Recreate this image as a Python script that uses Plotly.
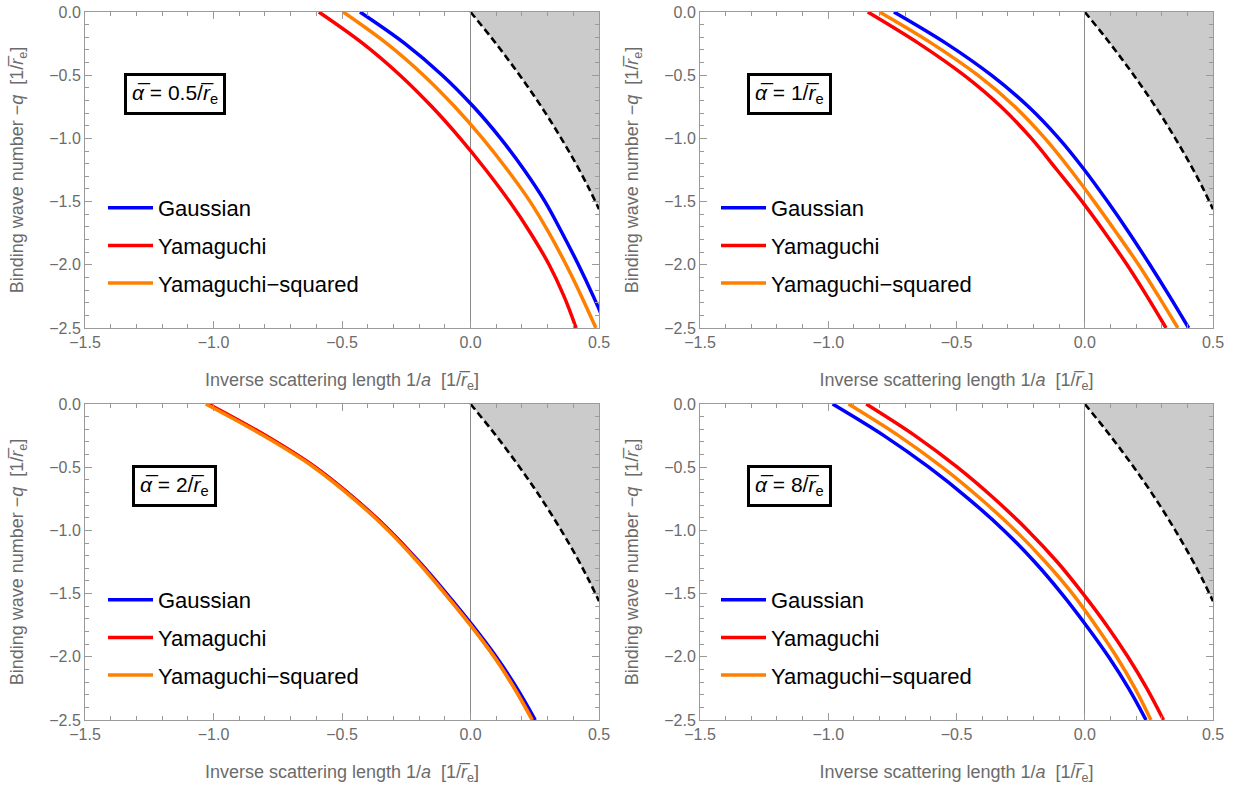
import plotly.graph_objects as go

# ---------------- data ----------------
q_levels = [0.0, -0.25, -0.5, -0.75, -1.0, -1.25, -1.5, -1.75, -2.0, -2.25, -2.5]   # -q

# alpha = 0.5 / r_e
gauss_a05 = [-0.43, -0.255, -0.11, 0.012, 0.117, 0.209, 0.29, 0.357, 0.42, 0.478, 0.532]
yama_a05 = [-0.59, -0.418, -0.274, -0.15, -0.04, 0.06, 0.152, 0.234, 0.306, 0.364, 0.411]
yamasq_a05 = [-0.495, -0.325, -0.183, -0.061, 0.047, 0.144, 0.232, 0.306, 0.372, 0.432, 0.488]

# alpha = 1 / r_e
gauss_a1 = [-0.744, -0.539, -0.364, -0.219, -0.101, -0.001, 0.089, 0.174, 0.254, 0.331, 0.405]
yama_a1 = [-0.846, -0.646, -0.471, -0.326, -0.208, -0.108, -0.01, 0.08, 0.165, 0.243, 0.317]
yamasq_a1 = [-0.80, -0.595, -0.417, -0.272, -0.155, -0.055, 0.037, 0.125, 0.21, 0.288, 0.363]

# alpha = 2 / r_e
gauss_a2 = [-1.025, -0.80, -0.605, -0.45, -0.315, -0.199, -0.093, 0.007, 0.10, 0.181, 0.252]
yama_a2 = [-1.02, -0.797, -0.604, -0.45, -0.316, -0.202, -0.098, 0.001, 0.093, 0.172, 0.242]
yamasq_a2 = [-1.03, -0.806, -0.61, -0.455, -0.32, -0.205, -0.10, 0.0, 0.092, 0.171, 0.24]

# alpha = 8 / r_e
gauss_a8 = [-0.983, -0.783, -0.608, -0.453, -0.315, -0.195, -0.09, 0.005, 0.093, 0.171, 0.239]
yama_a8 = [-0.852, -0.662, -0.497, -0.352, -0.222, -0.107, -0.007, 0.085, 0.168, 0.242, 0.307]
yamasq_a8 = [-0.921, -0.726, -0.556, -0.406, -0.271, -0.153, -0.048, 0.042, 0.124, 0.196, 0.258]

# dashed boundary of the excluded (grey) region
bound_x = [0.0, 0.08, 0.155, 0.226, 0.292, 0.353, 0.41, 0.462, 0.5]
bound_y = [0.0, -0.2, -0.4, -0.6, -0.8, -1.0, -1.2, -1.4, -1.56]

series_names = ["Gaussian", "Yamaguchi", "Yamaguchi\u2212squared"]
series_colors = ["#0000FF", "#FF0000", "#FF8000"]
panel_labels = ["0.5", "1", "2", "8"]
panel_data = [
    [gauss_a05, yama_a05, yamasq_a05],
    [gauss_a1, yama_a1, yamasq_a1],
    [gauss_a2, yama_a2, yamasq_a2],
    [gauss_a8, yama_a8, yamasq_a8],
]

# ---------------- layout geometry ----------------
W, H = 1235, 791
col_px = [(85, 599), (700, 1213)]
row_px = [(12, 328), (404, 720)]
legend_px = [(103, 187), (716, 187), (103, 579), (716, 579)]

FONT = "Liberation Sans, Arial, Helvetica, sans-serif"
GREY_TXT = "#6b6b6b"
FRAME = "#9a9a9a"

fig = go.Figure()
layout = dict(
    width=W, height=H,
    margin=dict(l=0, r=0, t=0, b=0, autoexpand=False),
    paper_bgcolor="white", plot_bgcolor="white",
    font=dict(family=FONT, color=GREY_TXT),
    showlegend=True,
)

rbar = "r\u0305"
abar = "\u03b1\u0305"
gap = " \u00a0"

for i in range(4):
    r, c = divmod(i, 2)
    n = i + 1
    xa = "x" if n == 1 else f"x{n}"
    ya = "y" if n == 1 else f"y{n}"
    xkey = "xaxis" if n == 1 else f"xaxis{n}"
    ykey = "yaxis" if n == 1 else f"yaxis{n}"
    lkey = "legend" if n == 1 else f"legend{n}"

    x0, x1 = col_px[c]
    y0, y1 = row_px[r]

    # grey excluded region
    fig.add_trace(go.Scatter(
        x=bound_x + [0.5, 0.0], y=bound_y + [0.0, 0.0],
        fill="toself", fillcolor="#cbcbcb", mode="lines",
        line=dict(width=0), hoverinfo="skip", showlegend=False,
        xaxis=xa, yaxis=ya))
    # dashed boundary
    fig.add_trace(go.Scatter(
        x=bound_x, y=bound_y, mode="lines",
        line=dict(color="black", width=2.6, dash="7px,4px", shape="spline"),
        hoverinfo="skip", showlegend=False, xaxis=xa, yaxis=ya))

    for k in range(3):
        fig.add_trace(go.Scatter(
            x=panel_data[i][k], y=q_levels, mode="lines",
            name=series_names[k],
            line=dict(color=series_colors[k], width=3.5, shape="spline", smoothing=1.0),
            legend=lkey, legendgroup=f"g{n}_{k}",
            xaxis=xa, yaxis=ya))

    axis_common = dict(
        showgrid=False, showline=True, linecolor=FRAME, linewidth=1,
        mirror="ticks", ticks="inside", ticklen=7, tickcolor=FRAME, tickwidth=1,
        tickformat=".1f", tickfont=dict(size=16, color=GREY_TXT, family=FONT),
        minor=dict(ticks="inside", ticklen=4, tickcolor=FRAME, dtick=0.1, showgrid=False),
        automargin=False,
    )
    layout[xkey] = dict(
        axis_common,
        domain=[x0 / W, x1 / W], anchor=ya,
        range=[-1.5, 0.5], dtick=0.5, tick0=0,
        zeroline=True, zerolinecolor="#8a8a8a", zerolinewidth=1,
        title=dict(text=f"Inverse scattering length 1/<i>a</i>{gap}[1/<i>{rbar}</i><sub>e</sub>]",
                   font=dict(size=18, color=GREY_TXT, family=FONT), standoff=23),
    )
    layout[ykey] = dict(
        axis_common,
        domain=[1 - y1 / H, 1 - y0 / H], anchor=xa,
        range=[-2.5, 0.0], dtick=0.5, tick0=0, zeroline=False,
        title=dict(text=f"Binding wave number \u2212<i>q</i>{gap}[1/<i>{rbar}</i><sub>e</sub>]",
                   font=dict(size=18, color=GREY_TXT, family=FONT), standoff=20),
    )
    lx, ly = legend_px[i]
    layout[lkey] = dict(
        x=lx / W, y=1 - ly / H, xref="paper", yref="paper",
        xanchor="left", yanchor="top",
        bgcolor="rgba(0,0,0,0)", font=dict(size=22, color="black", family=FONT),
        tracegroupgap=6, traceorder="grouped", itemwidth=45,
    )

    fig.add_annotation(
        x=-1.15, y=-0.645, xref=xa, yref=ya, showarrow=False,
        text=f"<i>{abar}</i> = {panel_labels[i]}/<i>{rbar}</i><sub>e</sub>",
        font=dict(size=21, color="black", family=FONT),
        bordercolor="black", borderwidth=3, borderpad=5, bgcolor="white")

fig.update_layout(**layout)
fig.write_html("out.html", config={"displayModeBar": False},
               post_script="document.body.style.margin='0px';")
